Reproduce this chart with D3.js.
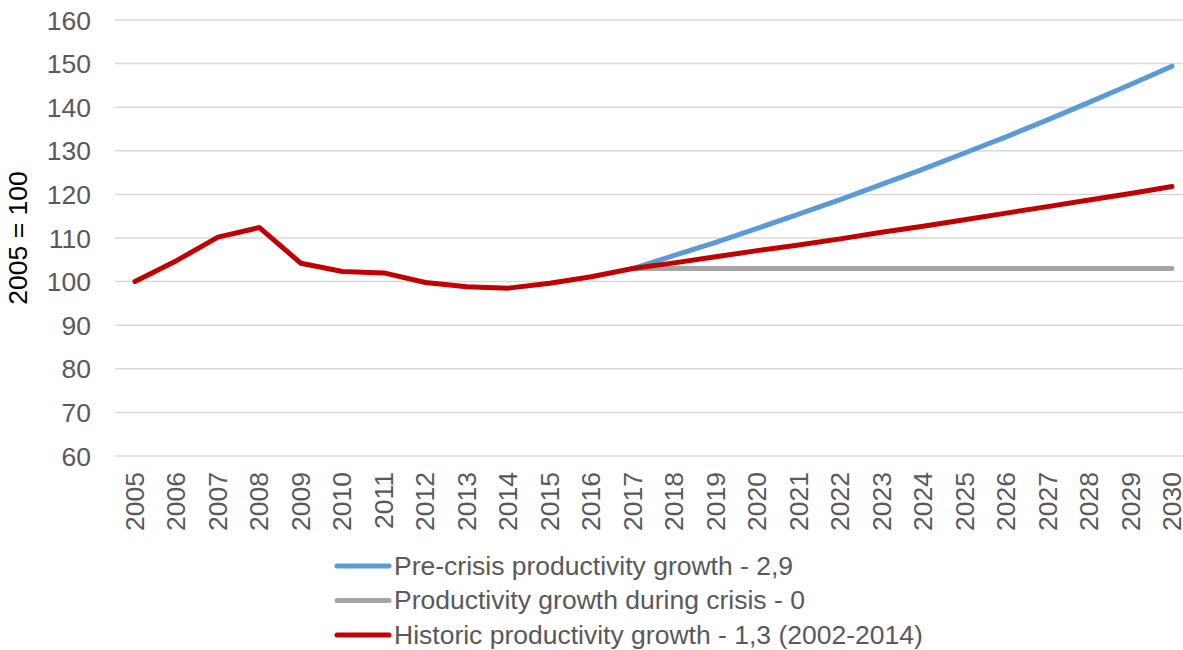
<!DOCTYPE html>
<html>
<head>
<meta charset="utf-8">
<script src="https://cdn.jsdelivr.net/npm/d3@7"></script>
<style>
  html, body { margin: 0; padding: 0; background: #fff; }
  svg { display: block; font-family: "Liberation Sans", Arial, sans-serif; }
</style>
</head>
<body>
<svg id="chart" width="1183" height="650"></svg>
<script>
// Productivity index, 2005 = 100
const years = [2005, 2006, 2007, 2008, 2009, 2010, 2011, 2012, 2013, 2014, 2015, 2016, 2017,
               2018, 2019, 2020, 2021, 2022, 2023, 2024, 2025, 2026, 2027, 2028, 2029, 2030];

const historyYears = years.slice(0, 13);
const historyValues = [100, 104.8, 110.2, 112.4, 104.2, 102.3, 102.0, 99.8, 98.8, 98.5, 99.6, 101.1, 103.0];

const projYears = years.slice(12);
const preCrisis = [103.0, 106.0, 109.0, 112.2, 115.5, 118.8, 122.3, 125.8, 129.5, 133.2, 137.1, 141.1, 145.2, 149.4];
const duringCrisis = [103.0, 103.0, 103.0, 103.0, 103.0, 103.0, 103.0, 103.0, 103.0, 103.0, 103.0, 103.0, 103.0, 103.0];
const historic = [103.0, 104.3, 105.7, 107.1, 108.4, 109.8, 111.3, 112.7, 114.2, 115.7, 117.2, 118.7, 120.2, 121.8];

const yTicks = [60, 70, 80, 90, 100, 110, 120, 130, 140, 150, 160];
const legendLabels = [
  "Pre-crisis productivity growth - 2,9",
  "Productivity growth during crisis - 0",
  "Historic productivity growth - 1,3 (2002-2014)"
];
const colors = ["#5B9BD5", "#A5A5A5", "#C00000"];

const svg = d3.select("#chart");
const fontSize = 26.5;

const x = d3.scaleLinear().domain([2005, 2030]).range([135, 1172]);
const y = d3.scaleLinear().domain([60, 160]).range([456, 20]);

// gridlines
svg.append("g")
  .selectAll("line")
  .data(yTicks)
  .join("line")
  .attr("x1", 115).attr("x2", 1183)
  .attr("y1", d => y(d)).attr("y2", d => y(d))
  .attr("stroke", "#D9D9D9").attr("stroke-width", 1.5);

// y tick labels
svg.append("g")
  .selectAll("text")
  .data(yTicks)
  .join("text")
  .attr("x", 91).attr("y", d => y(d))
  .attr("dy", "0.36em")
  .attr("text-anchor", "end")
  .attr("fill", "#595959")
  .attr("font-size", fontSize)
  .text(d => d);

// y axis title
svg.append("text")
  .attr("transform", "translate(27,238) rotate(-90)")
  .attr("text-anchor", "middle")
  .attr("fill", "#000")
  .attr("font-size", fontSize)
  .text("2005 = 100");

// x tick labels, rotated
svg.append("g")
  .selectAll("text")
  .data(years)
  .join("text")
  .attr("transform", d => `translate(${x(d)},472) rotate(-90)`)
  .attr("dy", "0.34em")
  .attr("text-anchor", "end")
  .attr("fill", "#595959")
  .attr("font-size", fontSize)
  .text(d => d);

const line = d3.line().x(d => x(d[0])).y(d => y(d[1]));
const zip = (xs, vs) => xs.map((v, i) => [v, vs[i]]);

const series = [
  { data: zip(projYears, duringCrisis), color: colors[1] },
  { data: zip(projYears, preCrisis), color: colors[0] },
  { data: zip(historyYears, historyValues), color: colors[2] },
  { data: zip(projYears, historic), color: colors[2] }
];

svg.append("g")
  .selectAll("path")
  .data(series)
  .join("path")
  .attr("d", d => line(d.data))
  .attr("fill", "none")
  .attr("stroke", d => d.color)
  .attr("stroke-width", 5)
  .attr("stroke-linejoin", "round")
  .attr("stroke-linecap", "round");

// legend
const legend = svg.append("g")
  .selectAll("g")
  .data(legendLabels)
  .join("g")
  .attr("transform", (d, i) => `translate(337,${566 + i * 34.5})`);

legend.append("line")
  .attr("x1", 0).attr("x2", 52)
  .attr("stroke", (d, i) => colors[i])
  .attr("stroke-width", 5)
  .attr("stroke-linecap", "round");

legend.append("text")
  .attr("x", 57)
  .attr("dy", "0.33em")
  .attr("fill", "#595959")
  .attr("font-size", fontSize)
  .text(d => d);
</script>
</body>
</html>
